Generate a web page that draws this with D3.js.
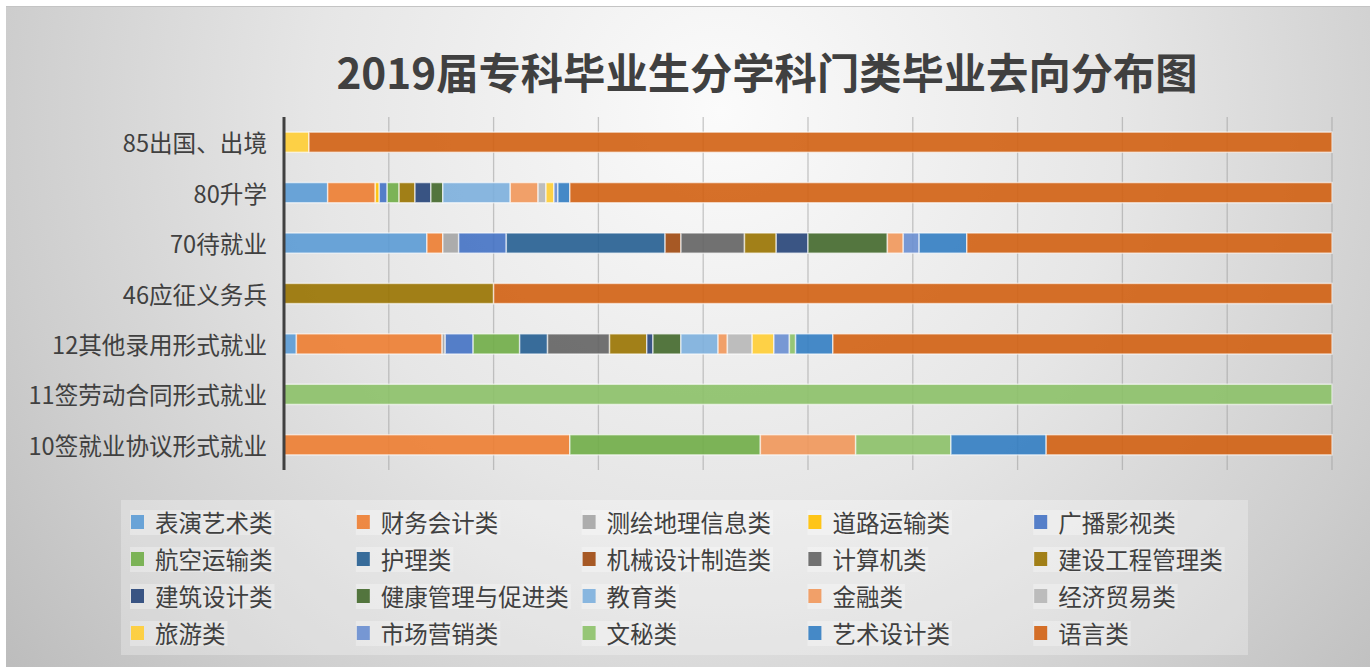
<!DOCTYPE html>
<html>
<head>
<meta charset="utf-8">
<script src="https://cdn.jsdelivr.net/npm/d3@7"></script>
<style>
  html, body { margin: 0; padding: 0; background: #fff; }
  svg { display: block; font-family: "Noto Sans CJK SC", "Noto Sans", sans-serif; }
</style>
</head>
<body>
<svg id="chart" width="1370" height="667"></svg>
<script>
// categories (bottom of list = bottom of chart)
var categories = ["85出国、出境", "80升学", "70待就业", "46应征义务兵",
                  "12其他录用形式就业", "11签劳动合同形式就业", "10签就业协议形式就业"];

// series names, legend order
var seriesNames = ["表演艺术类", "财务会计类", "测绘地理信息类", "道路运输类", "广播影视类",
                   "航空运输类", "护理类", "机械设计制造类", "计算机类", "建设工程管理类",
                   "建筑设计类", "健康管理与促进类", "教育类", "金融类", "经济贸易类",
                   "旅游类", "市场营销类", "文秘类", "艺术设计类", "语言类"];

// values per category row, in seriesNames order
var row85 = [0, 0, 0, 0, 0, 0, 0, 0, 0, 0, 0, 0, 0, 0, 0, 1, 0, 0, 0, 41];
var row80 = [11, 12, 0, 1, 2, 3, 0, 0, 0, 4, 4, 3, 17, 7, 2, 2, 1, 0, 3, 192];
var row70 = [9, 1, 1, 0, 3, 0, 10, 1, 4, 2, 2, 5, 0, 1, 0, 0, 1, 0, 3, 23];
var row46 = [0, 0, 0, 0, 0, 0, 0, 0, 0, 1, 0, 0, 0, 0, 0, 0, 0, 0, 0, 4];
var row12 = [4, 47, 1, 0, 9, 15, 9, 0, 20, 12, 2, 9, 12, 3, 8, 7, 5, 2, 12, 161];
var row11 = [0, 0, 0, 0, 0, 0, 0, 0, 0, 0, 0, 0, 0, 0, 0, 0, 0, 1, 0, 0];
var row10 = [0, 3, 0, 0, 0, 2, 0, 0, 0, 0, 0, 0, 0, 1, 0, 0, 0, 1, 1, 3];

var rows = [row85, row80, row70, row46, row12, row11, row10];

var colors = ["#5B9BD5", "#ED7D31", "#A5A5A5", "#FFC000", "#4472C4",
              "#70AD47", "#255E91", "#9E480E", "#636363", "#997300",
              "#264478", "#43682B", "#7CAFDD", "#F1975A", "#B7B7B7",
              "#FFCD33", "#698ED0", "#8CC168", "#327DC2", "#D26012"];

var svg = d3.select("#chart");
var W = 1370, H = 667;

// background gradient
var defs = svg.append("defs");
var grad = defs.append("radialGradient")
  .attr("id", "bg")
  .attr("gradientUnits", "userSpaceOnUse")
  .attr("cx", 720).attr("cy", 110).attr("r", 900);
grad.append("stop").attr("offset", 0).attr("stop-color", "#fbfbfb");
grad.append("stop").attr("offset", 0.45).attr("stop-color", "#e6e6e6");
grad.append("stop").attr("offset", 0.8).attr("stop-color", "#cdcdcd");
grad.append("stop").attr("offset", 1).attr("stop-color", "#bdbdbd");

svg.append("rect")
  .attr("x", 6).attr("y", 6).attr("width", W - 6).attr("height", H - 6)
  .attr("fill", "url(#bg)");
svg.append("line")
  .attr("x1", 6).attr("x2", W).attr("y1", 6.5).attr("y2", 6.5)
  .attr("stroke", "#c4c4c4").attr("stroke-width", 1);

// title
svg.append("text")
  .attr("x", 767).attr("y", 70)
  .attr("text-anchor", "middle")
  .attr("dominant-baseline", "central")
  .attr("font-size", 42.3)
  .attr("font-weight", 700)
  .attr("fill", "#404040")
  .text("2019届专科毕业生分学科门类毕业去向分布图");

// table for the stack
var table = categories.map(function(c, i) {
  var d = { cat: c };
  seriesNames.forEach(function(s, j) { d[s] = rows[i][j]; });
  return d;
});

var stack = d3.stack().keys(seriesNames).offset(d3.stackOffsetExpand);
var layers = stack(table);

var x = d3.scaleLinear().domain([0, 1]).range([284, 1332]);
var y = d3.scaleBand().domain(categories).range([117, 470]).paddingInner(0.6).paddingOuter(0.3);

// gridlines
svg.append("g")
  .selectAll("line")
  .data(d3.range(1, 11).map(function(i) { return i / 10; }))
  .enter().append("line")
  .attr("x1", function(d) { return x(d); })
  .attr("x2", function(d) { return x(d); })
  .attr("y1", 117).attr("y2", 470)
  .attr("stroke", "#9a9a9a")
  .attr("stroke-opacity", 0.55)
  .attr("stroke-width", 1.3);

// bars
svg.append("g")
  .selectAll("g")
  .data(layers)
  .enter().append("g")
  .attr("fill", function(d, i) { return colors[i]; })
  .selectAll("rect")
  .data(function(d) { return d; })
  .enter().append("rect")
  .filter(function(d) { return d[1] - d[0] > 0; })
  .attr("x", function(d) { return x(d[0]); })
  .attr("y", function(d) { return y(d.data.cat); })
  .attr("width", function(d) { return x(d[1]) - x(d[0]); })
  .attr("height", y.bandwidth())
  .attr("fill-opacity", 0.9)
  .attr("stroke", "#ffffff")
  .attr("stroke-opacity", 0.6)
  .attr("stroke-width", 1.5);

// left axis line
svg.append("line")
  .attr("x1", 284).attr("x2", 284)
  .attr("y1", 117).attr("y2", 470)
  .attr("stroke", "#404040")
  .attr("stroke-width", 3);

// category labels
svg.append("g")
  .selectAll("text")
  .data(categories)
  .enter().append("text")
  .attr("x", 267)
  .attr("y", function(d) { return y(d) + y.bandwidth() / 2; })
  .attr("text-anchor", "end")
  .attr("dominant-baseline", "central")
  .attr("font-size", 23.6)
  .attr("fill", "#404040")
  .text(function(d) { return d; });

// legend
svg.append("rect")
  .attr("x", 121).attr("y", 500).attr("width", 1127).attr("height", 155)
  .attr("fill", "#ffffff").attr("fill-opacity", 0.28);

var legend = svg.append("g")
  .selectAll("g")
  .data(seriesNames)
  .enter().append("g")
  .attr("transform", function(d, i) {
    return "translate(" + (131 + (i % 5) * 225.8) + "," + (522 + Math.floor(i / 5) * 37) + ")";
  });

legend.append("text")
  .attr("x", 24).attr("y", 0)
  .attr("dominant-baseline", "central")
  .attr("font-size", 23.5)
  .attr("fill", "#404040")
  .text(function(d) { return d; })
  .each(function() {
    var w = this.getComputedTextLength();
    d3.select(this.parentNode).insert("rect", "text")
      .attr("x", -1).attr("y", -12).attr("width", w + 27).attr("height", 25)
      .attr("fill", "#ffffff").attr("fill-opacity", 0.3);
  });

legend.append("rect")
  .attr("x", 0).attr("y", -7).attr("width", 13).attr("height", 14)
  .attr("fill", function(d, i) { return colors[i]; })
  .attr("fill-opacity", 0.9);
</script>
</body>
</html>
